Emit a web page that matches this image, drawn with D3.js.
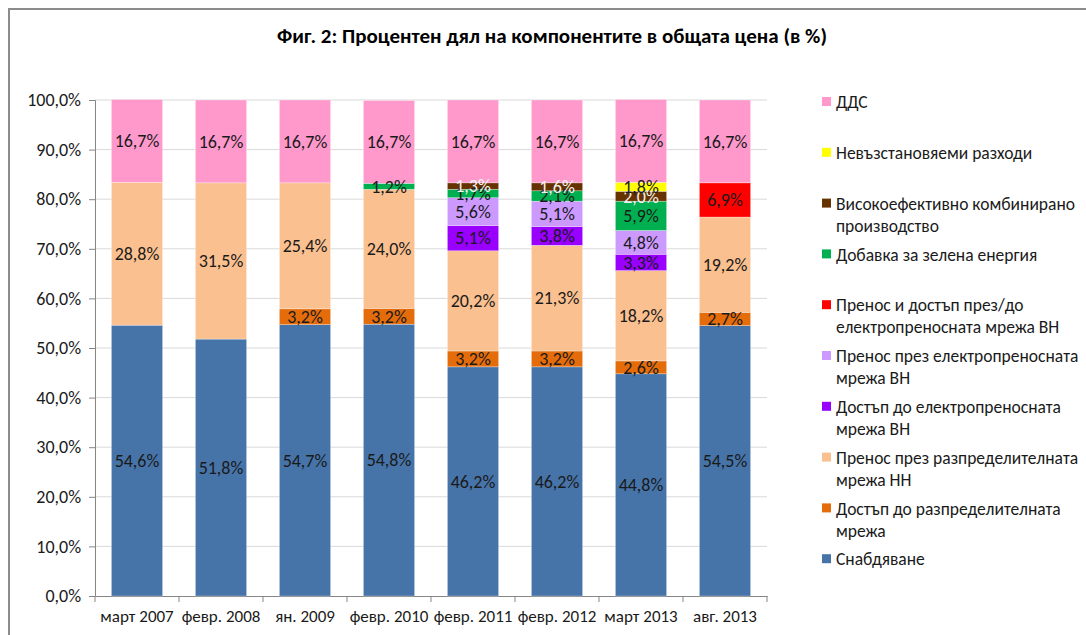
<!DOCTYPE html>
<html>
<head>
<meta charset="utf-8">
<script src="https://cdnjs.cloudflare.com/ajax/libs/d3/7.8.5/d3.min.js"></script>
<style>
  body { margin: 0; background: #fff; }
  svg { display: block; font-family: Carlito, Lato, "Open Sans", sans-serif; }
</style>
</head>
<body>
<script>
// categories (x axis)
var periods = ["март 2007", "февр. 2008", "ян. 2009", "февр. 2010", "февр. 2011", "февр. 2012", "март 2013", "авг. 2013"];

// series, bottom to top of the stack
var seriesNames = [
  "Снабдяване",
  "Достъп до разпределителната мрежа",
  "Пренос през разпределителната мрежа НН",
  "Достъп до електропреносната мрежа ВН",
  "Пренос през електропреносната мрежа ВН",
  "Пренос и достъп през/до електропреносната мрежа ВН",
  "Добавка за зелена енергия",
  "Високоефективно комбинирано производство",
  "Невъзстановяеми разходи",
  "ДДС"
];
var seriesColors = ["#4674a9", "#e46c0a", "#fac08f", "#9900ff", "#cc99ff", "#ff0000", "#00b050", "#663300", "#ffff00", "#ff99cc"];

// values in %, one array per series
var snabdyavane   = [54.6, 51.8, 54.7, 54.8, 46.2, 46.2, 44.8, 54.5];
var dostapRazpr   = [0, 0, 3.2, 3.2, 3.2, 3.2, 2.6, 2.7];
var prenosNN      = [28.8, 31.5, 25.4, 24.0, 20.2, 21.3, 18.2, 19.2];
var dostapVN      = [0, 0, 0, 0, 5.1, 3.8, 3.3, 0];
var prenosVN      = [0, 0, 0, 0, 5.6, 5.1, 4.8, 0];
var prenosDostVN  = [0, 0, 0, 0, 0, 0, 0, 6.9];
var zelena        = [0, 0, 0, 1.2, 1.7, 2.1, 5.9, 0];
var kombinirano   = [0, 0, 0, 0, 1.3, 1.6, 2.0, 0];
var nevazst       = [0, 0, 0, 0, 0, 0, 1.8, 0];
var dds           = [16.7, 16.7, 16.7, 16.7, 16.7, 16.7, 16.7, 16.7];

var yTicks = [0, 10, 20, 30, 40, 50, 60, 70, 80, 90, 100];

var allSeries = [snabdyavane, dostapRazpr, prenosNN, dostapVN, prenosVN, prenosDostVN, zelena, kombinirano, nevazst, dds];

// table for d3.stack
var table = periods.map(function(p, i) {
  var row = { period: p };
  seriesNames.forEach(function(s, j) { row[s] = allSeries[j][i]; });
  return row;
});

var svg_width = 1086, svg_height = 635;
var plotLeft = 95, plotRight = 767, plotTop = 100, plotBottom = 596;

var svg = d3.select("body").append("svg")
  .attr("width", svg_width)
  .attr("height", svg_height);

// outer frame (only top and left visible in the picture)
svg.append("path")
  .attr("d", "M9,635 V9 H1086")
  .attr("fill", "none")
  .attr("stroke", "#8c8c8c")
  .attr("stroke-width", 2);

// title
svg.append("text")
  .attr("x", 552)
  .attr("y", 43)
  .attr("text-anchor", "middle")
  .style("font-size", "21px")
  .style("font-weight", "bold")
  .text("Фиг. 2: Процентен дял на компонентите в общата цена (в %)");

var xScale = d3.scaleBand()
  .domain(periods)
  .range([plotLeft, plotRight])
  .paddingInner(0.39)
  .paddingOuter(0.195);

var yScale = d3.scaleLinear()
  .domain([0, 100])
  .range([plotBottom, plotTop]);

// gridlines
svg.append("g")
  .selectAll("line")
  .data(yTicks.slice(1))
  .enter()
  .append("line")
  .attr("x1", plotLeft)
  .attr("x2", plotRight)
  .attr("y1", d => yScale(d))
  .attr("y2", d => yScale(d))
  .attr("stroke", "#d9d9d9")
  .attr("stroke-width", 1);

// y axis
var yaxis = d3.axisLeft(yScale)
  .tickValues(yTicks)
  .tickSize(6)
  .tickPadding(8)
  .tickFormat(d => d.toFixed(1).replace(".", ",") + "%");

var yg = svg.append("g")
  .attr("transform", "translate(" + plotLeft + ",0)")
  .call(yaxis);
yg.select(".domain").attr("stroke", "#868686");
yg.selectAll(".tick line").attr("stroke", "#868686");
yg.selectAll(".tick text")
  .attr("fill", "#1a1a1a")
  .style("font-size", "18px")
  .style("font-family", "Carlito, Lato, sans-serif");

// x axis
var xaxis = d3.axisBottom(xScale).tickSize(0).tickPadding(14);
var xg = svg.append("g")
  .attr("transform", "translate(0," + plotBottom + ")")
  .call(xaxis);
xg.select(".domain").attr("stroke", "#868686");
xg.selectAll(".tick text")
  .attr("fill", "#1a1a1a")
  .style("font-size", "17px")
  .style("font-family", "Carlito, Lato, sans-serif");

// tick marks between categories
var step = xScale.step();
xg.selectAll(".cat-tick")
  .data(d3.range(periods.length + 1))
  .enter()
  .append("line")
  .attr("x1", i => plotLeft + i * step)
  .attr("x2", i => plotLeft + i * step)
  .attr("y1", 0)
  .attr("y2", 6)
  .attr("stroke", "#868686");

// stacked bars
var stack = d3.stack().keys(seriesNames);
var stacked = stack(table);

var layers = svg.selectAll(".layer")
  .data(stacked)
  .enter()
  .append("g")
  .attr("class", "layer")
  .attr("fill", (d, i) => seriesColors[i]);

layers.selectAll("rect")
  .data(d => d.filter(p => p[1] - p[0] > 0))
  .enter()
  .append("rect")
  .attr("x", d => xScale(d.data.period))
  .attr("width", xScale.bandwidth())
  .attr("y", d => yScale(d[1]))
  .attr("height", d => yScale(d[0]) - yScale(d[1]))
  .attr("stroke", "#ffffff")
  .attr("stroke-opacity", 0.5)
  .attr("stroke-width", 0.6);

// data labels
stacked.forEach(function(layer, i) {
  svg.append("g")
    .selectAll("text")
    .data(layer.filter(p => p[1] - p[0] > 0))
    .enter()
    .append("text")
    .attr("x", d => xScale(d.data.period) + xScale.bandwidth() / 2)
    .attr("y", d => yScale((d[0] + d[1]) / 2))
    .attr("dy", "0.35em")
    .attr("text-anchor", "middle")
    .attr("fill", seriesNames[i] === "Високоефективно комбинирано производство" ? "#f2f2f2" : "#1a1a1a")
    .style("font-size", "18px")
    .text(d => (d[1] - d[0]).toFixed(1).replace(".", ",") + "%");
});

// legend, top to bottom (reverse of stack)
var legendItems = [
  { name: "ДДС", lines: ["ДДС"] },
  { name: "Невъзстановяеми разходи", lines: ["Невъзстановяеми разходи"] },
  { name: "Високоефективно комбинирано производство", lines: ["Високоефективно комбинирано", "производство"] },
  { name: "Добавка за зелена енергия", lines: ["Добавка за зелена енергия"] },
  { name: "Пренос и достъп през/до електропреносната мрежа ВН", lines: ["Пренос и достъп през/до", "електропреносната мрежа ВН"] },
  { name: "Пренос през електропреносната мрежа ВН", lines: ["Пренос през електропреносната", "мрежа ВН"] },
  { name: "Достъп до електропреносната мрежа ВН", lines: ["Достъп до електропреносната", "мрежа ВН"] },
  { name: "Пренос през разпределителната мрежа НН", lines: ["Пренос през разпределителната", "мрежа НН"] },
  { name: "Достъп до разпределителната мрежа", lines: ["Достъп до разпределителната", "мрежа"] },
  { name: "Снабдяване", lines: ["Снабдяване"] }
];

var legend = svg.selectAll(".legend")
  .data(legendItems)
  .enter()
  .append("g")
  .attr("class", "legend")
  .attr("transform", (d, i) => "translate(822," + (102 + i * 50.8) + ")");

legend.append("rect")
  .attr("x", 0)
  .attr("y", -5)
  .attr("width", 9)
  .attr("height", 9)
  .attr("fill", d => seriesColors[seriesNames.indexOf(d.name)]);

legend.append("text")
  .attr("x", 14)
  .attr("y", 0)
  .attr("fill", "#1a1a1a")
  .style("font-size", "17.5px")
  .selectAll("tspan")
  .data(d => d.lines)
  .enter()
  .append("tspan")
  .attr("x", 14)
  .attr("dy", (d, i) => i === 0 ? "0.35em" : "22px")
  .text(d => d);
</script>
</body>
</html>
